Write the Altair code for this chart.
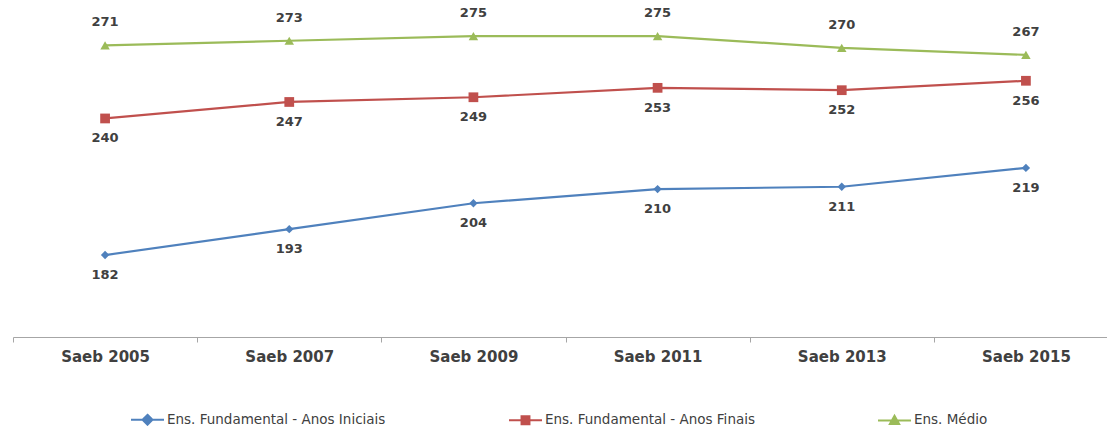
import altair as alt
import pandas as pd

categories = ["Saeb 2005", "Saeb 2007", "Saeb 2009", "Saeb 2011", "Saeb 2013", "Saeb 2015"]
series_names = ["Ens. Fundamental - Anos Iniciais", "Ens. Fundamental - Anos Finais", "Ens. Médio"]
iniciais = [182, 193, 204, 210, 211, 219]
finais = [240, 247, 249, 253, 252, 256]
medio = [271, 273, 275, 275, 270, 267]
colors = ["#4f81bd", "#c0504d", "#9bbb59"]

rows = []
for name, vals in zip(series_names, [iniciais, finais, medio]):
    for c, v in zip(categories, vals):
        rows.append({"cat": c, "series": name, "val": v})
df = pd.DataFrame(rows)

FONT = "DejaVu Sans"

xenc = alt.X("cat:N", sort=categories, title=None,
             scale=alt.Scale(range=[0, 1105], paddingInner=0, paddingOuter=0),
             axis=alt.Axis(labelAngle=0, labelFont=FONT, labelFontSize=15,
                           labelFontWeight="bold", labelColor="#404040", labelPadding=7,
                           domainColor="#a6a6a6", tickColor="#a6a6a6", tickSize=5,
                           tickBand="extent", grid=False, domainWidth=1.2))
yenc = alt.Y("val:Q", title=None,
             scale=alt.Scale(domain=[147.2, 290.3], zero=False, nice=False),
             axis=None)

base = alt.Chart(df)

shapes = ["diamond", "square", "triangle-up"]
sizes = [70, 95, 90]
layers = []
for name, col, shp, sz in zip(series_names, colors, shapes, sizes):
    sub = base.transform_filter(alt.datum.series == name)
    layers.append(sub.mark_line(strokeWidth=2.2, color=col).encode(x=xenc, y=yenc))
    layers.append(sub.mark_point(filled=True, shape=shp, size=sz, opacity=1,
                                 color=col).encode(x=xenc, y=yenc))

label_props = dict(font=FONT, fontSize=13, fontWeight="bold", color="#404040")
labels_below = base.transform_filter(alt.datum.series != series_names[2]).mark_text(
    dy=20, **label_props).encode(x=xenc, y=yenc, text="val:Q")
labels_above = base.transform_filter(alt.datum.series == series_names[2]).mark_text(
    dy=-23, **label_props).encode(x=xenc, y=yenc, text="val:Q")

legend_paths = [
    "M-1,0L1,0M0,-0.3L0.3,0L0,0.3L-0.3,0Z",
    "M-1,0L1,0M-0.24,-0.24L0.24,-0.24L0.24,0.24L-0.24,0.24Z",
    "M-1,0L1,0M0,-0.28L0.28,0.22L-0.28,0.22Z",
]
leg = alt.Legend(
    title=None, orient="none", legendX=117, legendY=402,
    direction="horizontal", columns=3, columnPadding=119,
    symbolSize=1089, symbolStrokeWidth=2, symbolOpacity=1,
    labelFont=FONT, labelFontSize=13.5, labelColor="#404040",
    labelOffset=2, labelLimit=400)
legend_layer = base.mark_point(size=0, strokeWidth=0).encode(
    x=xenc, y=yenc,
    fill=alt.Fill("series:N", sort=series_names,
                  scale=alt.Scale(domain=series_names, range=colors), legend=leg),
    stroke=alt.Stroke("series:N", sort=series_names,
                      scale=alt.Scale(domain=series_names, range=colors), legend=leg),
    shape=alt.Shape("series:N", sort=series_names,
                    scale=alt.Scale(domain=series_names, range=legend_paths), legend=leg),
)

chart = alt.layer(*layers, labels_below, labels_above, legend_layer).properties(
    width=1094, height=337,
    autosize=alt.AutoSizeParams(type="none"),
    padding={"left": 13, "top": 0, "right": 0, "bottom": 89},
    background="white",
).configure_view(stroke=None)

chart.save("out.html", embed_options={"renderer": "svg", "actions": False})
